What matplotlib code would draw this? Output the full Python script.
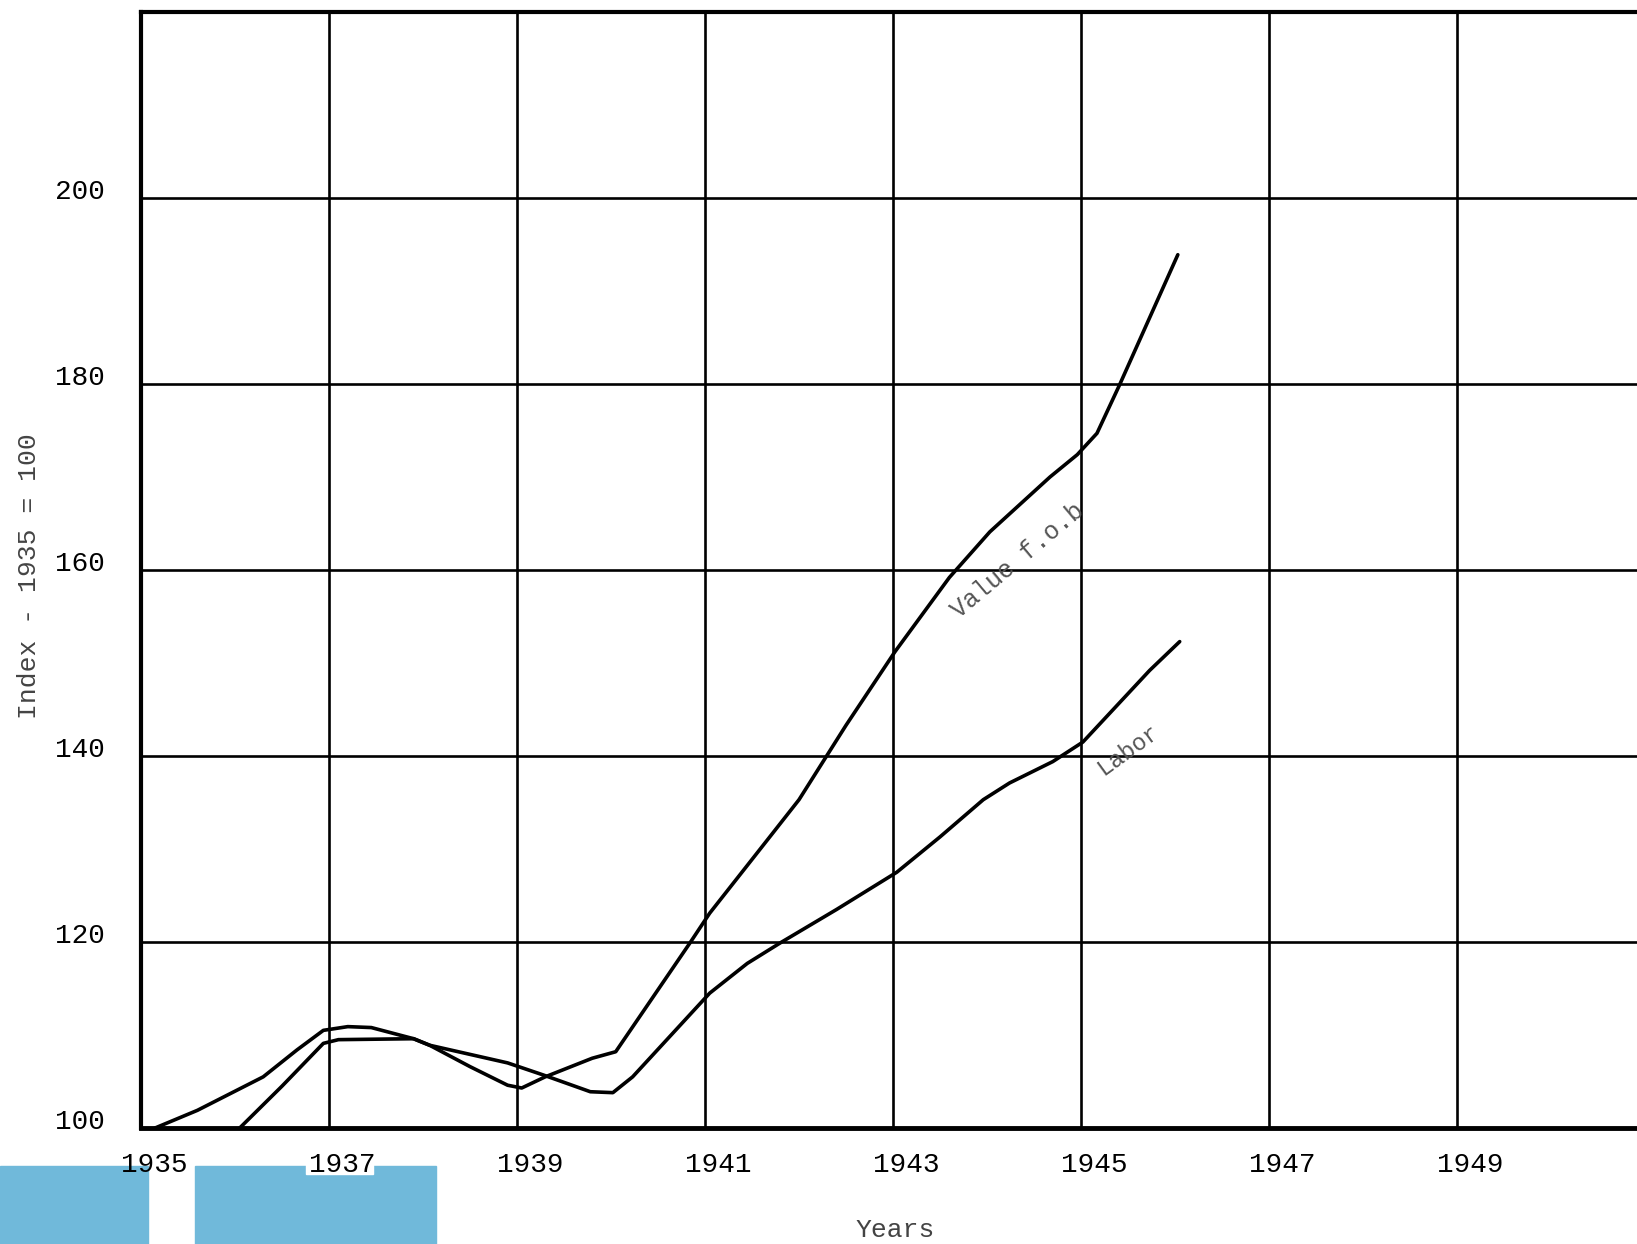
import matplotlib.pyplot as plt
import matplotlib.transforms as mtransforms
from matplotlib.patches import Rectangle

# values (index, 1935 = 100)
value_years = [1936.05, 1936.5, 1936.94, 1937.1, 1937.9, 1938.07, 1938.5, 1938.9, 1939.05,
               1939.3, 1939.8, 1940.05, 1940.84, 1941.05, 1941.72, 1942.0, 1942.5, 1943.02,
               1943.6, 1944.03, 1944.67, 1944.96, 1945.17, 1945.41, 1946.03]
value_fob = [100, 104.5, 109.1, 109.5, 109.6, 108.9, 106.6, 104.6, 104.3,
             105.5, 107.5, 108.2, 119.9, 123.1, 131.7, 135.3, 143.3, 151.2,
             159.2, 164.1, 170.0, 172.4, 174.7, 179.9, 193.9]

labor_years = [1935.15, 1935.6, 1936.3, 1936.66, 1936.94, 1937.2, 1937.45, 1937.9, 1938.07,
               1938.9, 1939.28, 1939.78, 1940.02, 1940.23, 1941.05, 1941.45, 1941.8, 1942.4,
               1943.04, 1943.5, 1943.96, 1944.24, 1944.7, 1945.02, 1945.73, 1946.05]
labor = [100, 101.9, 105.5, 108.4, 110.5, 110.9, 110.8, 109.6, 108.9,
         107.0, 105.7, 103.9, 103.8, 105.5, 114.5, 117.7, 119.9, 123.5,
         127.5, 131.3, 135.3, 137.1, 139.4, 141.5, 149.2, 152.3]

x_ticks = [1935, 1937, 1939, 1941, 1943, 1945, 1947, 1949]
y_ticks = [100, 120, 140, 160, 180, 200]

mono = ['Liberation Mono', 'DejaVu Sans Mono']

fig = plt.figure(figsize=(16.37, 12.44), dpi=100)
ax = fig.add_axes([141 / 1637, 1 - 1128 / 1244, 1 - 141 / 1637, 1116 / 1244])

ax.set_xlim(1935, 1935 + 1496 / 94)
ax.set_ylim(100, 220)

# grid every 2 years and every 20 index points
for yr in range(1937, 1952, 2):
    ax.axvline(yr, color='black', lw=1.9, zorder=1)
for v in range(120, 220, 20):
    ax.axhline(v, color='black', lw=1.9, zorder=1)

ax.plot(value_years, value_fob, color='black', lw=2.6, zorder=3,
        solid_capstyle='round', solid_joinstyle='round')
ax.plot(labor_years, labor, color='black', lw=2.6, zorder=3,
        solid_capstyle='round', solid_joinstyle='round')

ax.text(1944.33, 161.0, 'Value f.o.b', rotation=40, fontsize=18, family=mono,
        color='#555555', ha='center', va='center', rotation_mode='anchor')
ax.text(1945.5, 140.6, 'Labor', rotation=36, fontsize=17, family=mono,
        color='#555555', ha='center', va='center', rotation_mode='anchor')

ax.set_xticks(x_ticks)
ax.set_xticklabels([str(t) for t in x_ticks], fontsize=20, family=mono)
ax.set_yticks(y_ticks)
ax.set_yticklabels([str(t) for t in y_ticks], fontsize=20, family=mono)
ax.tick_params(length=0)
ax.tick_params(axis='x', pad=17)
ax.tick_params(axis='y', pad=26)

dx = mtransforms.ScaledTranslation(13 / 100, 0, fig.dpi_scale_trans)
for lab in ax.get_xticklabels():
    lab.set_transform(lab.get_transform() + dx)
dy = mtransforms.ScaledTranslation(0, 9 / 100, fig.dpi_scale_trans)
for lab in ax.get_yticklabels():
    lab.set_transform(lab.get_transform() + dy)

ax.spines['right'].set_visible(False)
ax.spines['left'].set_linewidth(3)
ax.spines['bottom'].set_linewidth(3.5)
ax.spines['top'].set_linewidth(3)

fig.text(29 / 1637, 1 - 576 / 1244, 'Index - 1935 = 100', rotation=90, fontsize=19,
         family=mono, color='#444444', ha='center', va='center')
fig.text(895 / 1637, 1 - 1230 / 1244, 'Years', fontsize=19, family=mono,
         color='#444444', ha='center', va='center')

# blue blocks along the bottom edge of the scan
blue = '#70b9da'
for x0, x1 in [(0, 148), (195, 436)]:
    fig.add_artist(Rectangle((x0 / 1637, 0), (x1 - x0) / 1637, 78 / 1244,
                             transform=fig.transFigure, color=blue, zorder=-1))
fig.add_artist(Rectangle((306 / 1637, 70 / 1244), 67 / 1637, 26 / 1244,
                         transform=fig.transFigure, color='white', zorder=-0.5))

fig.savefig('out.png', dpi=100)
